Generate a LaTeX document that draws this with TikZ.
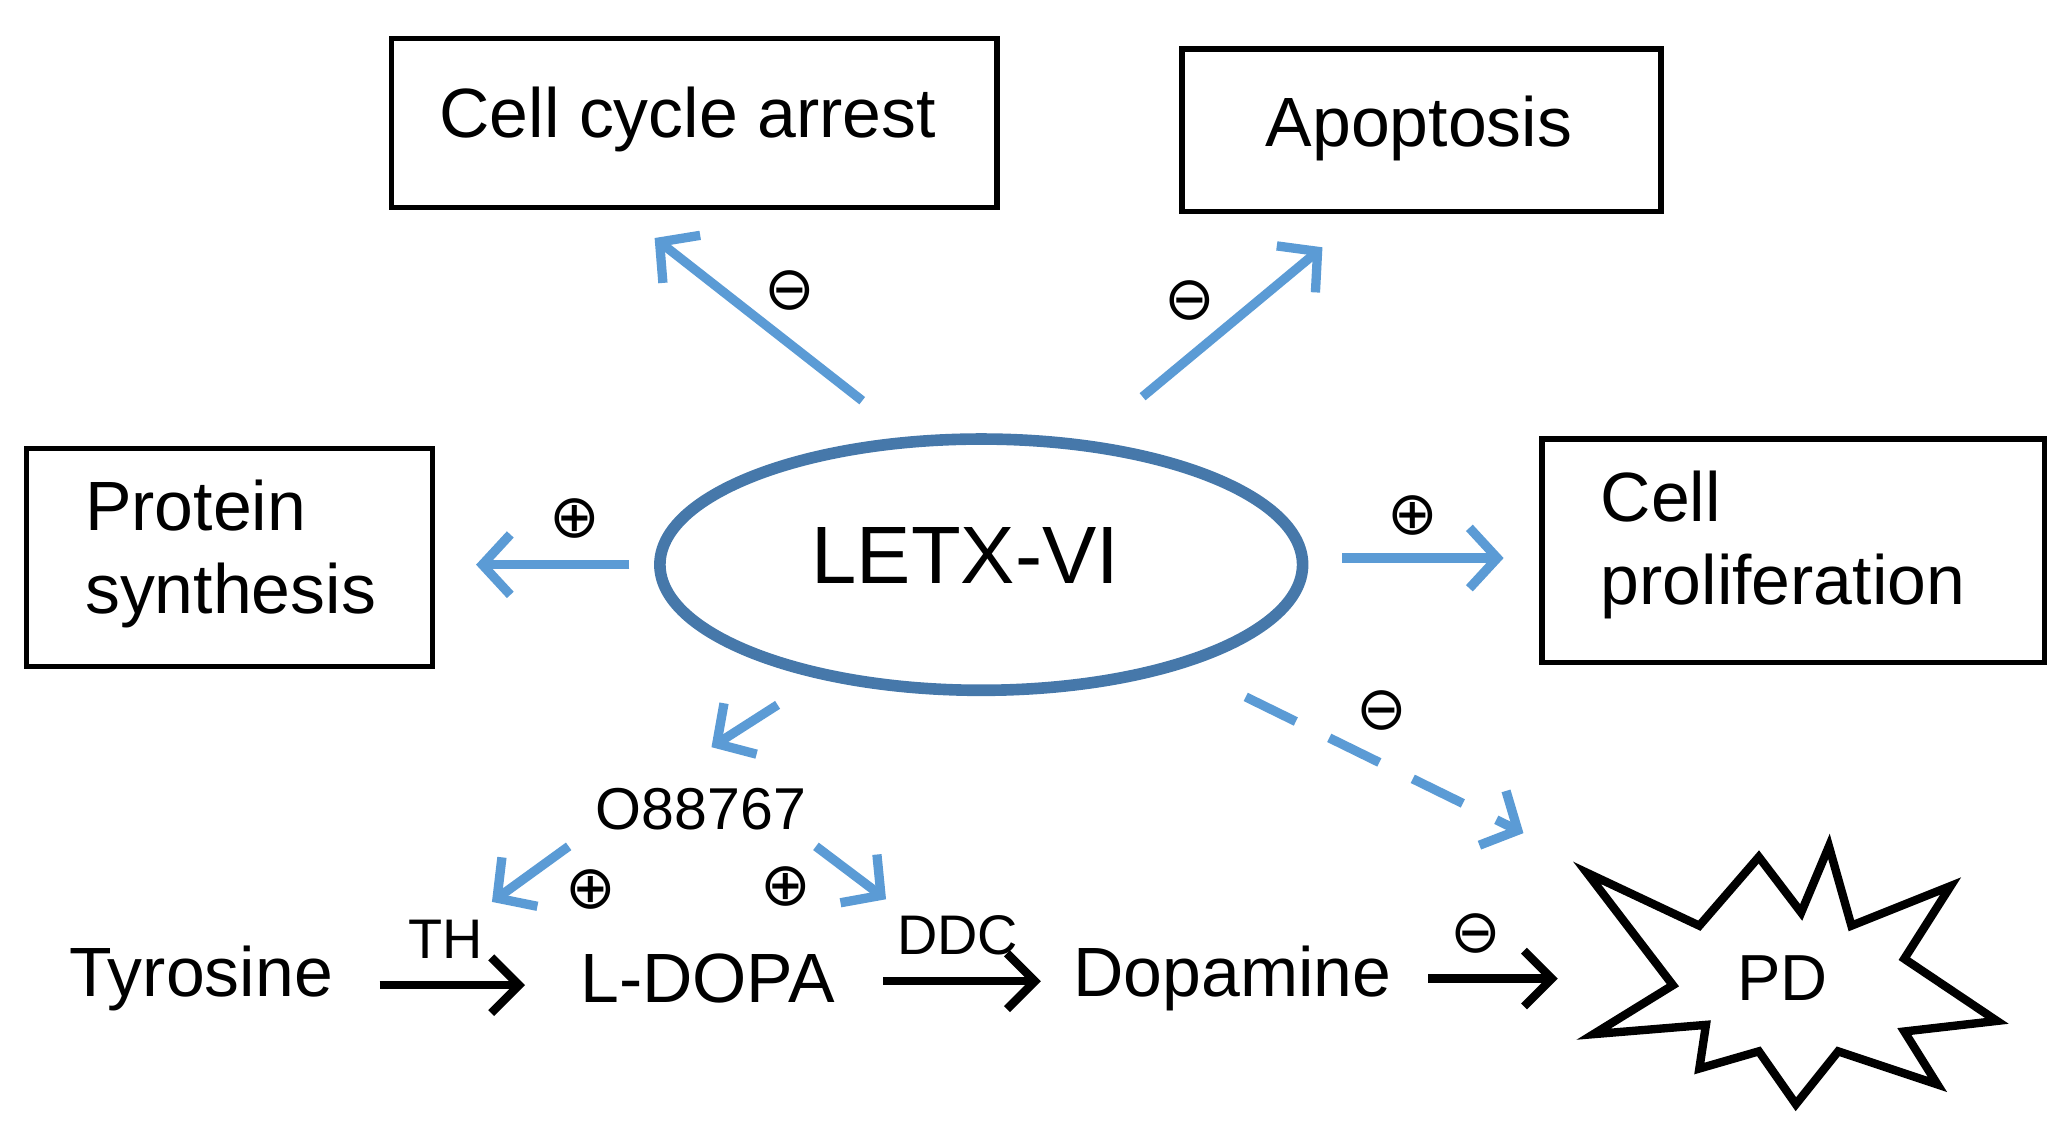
\documentclass[tikz,border=0pt]{standalone}
\usepackage{fontspec}
\setmainfont{Liberation Sans}
\newfontfamily\symf{DejaVu Sans}
\usetikzlibrary{arrows.meta}
\definecolor{ablue}{RGB}{91,155,213}
\definecolor{eblue}{RGB}{70,120,170}
\tikzset{
  barr/.style={draw=ablue,line width=2pt,-{Straight Barb[length=6pt,width=13pt]}},
  karr/.style={draw=black,line width=1.8pt,-{Straight Barb[length=6pt,width=12pt]}},
  sym/.style={font=\symf\fontsize{13}{13}\selectfont},
  lab/.style={font=\fontsize{15}{18}\selectfont},
}
\begin{document}
\begin{tikzpicture}[x=0.01cm,y=-0.01cm]
\useasboundingbox (0,0) rectangle (1560,852);
% boxes
\draw[line width=1.2pt] (296,29) rectangle (754,157);
\node[lab] (cca) at (520,90) {Cell cycle arrest};
\draw[line width=1.2pt] (894,37) rectangle (1256,160);
\node[lab] (apo) at (1073,97) {Apoptosis};
\draw[line width=1.2pt] (20,339) rectangle (327,504);
\node[lab,align=left,anchor=west] (ps) at (52,419) {Protein\\synthesis};
\draw[line width=1.2pt] (1166,332) rectangle (1546,501);
\node[lab,align=left,anchor=west] (cp) at (1198,412) {Cell\\proliferation};
% ellipse
\draw[eblue,line width=2.5pt] (742,427) ellipse [x radius=243,y radius=95];
\node[font=\fontsize{17.5}{20}\selectfont] (letx) at (730,420) {LETX-VI};
% blue arrows
\coordinate (a1) at (652,303); \coordinate (b1) at (495,180);
\draw[barr] (a1) -- (b1); \node[sym] (s1) at (597,220) {⊖};
\coordinate (a2) at (864,300); \coordinate (b2) at (1000,187);
\draw[barr] (a2) -- (b2); \node[sym] (s2) at (900,227) {⊖};
\coordinate (a3) at (476,427); \coordinate (b3) at (360,427);
\draw[barr] (a3) -- (b3); \node[sym] (s3) at (435,392) {⊕};
\coordinate (a4) at (1015,422); \coordinate (b4) at (1137,422);
\draw[barr] (a4) -- (b4); \node[sym] (s4) at (1068,390) {⊕};
\coordinate (a5) at (942,527); \coordinate (b5) at (1152,630);
\draw[barr,dash pattern=on 12pt off 8pt] (a5) -- (b5); \node[sym] (s5) at (1045,537) {⊖};
\coordinate (a6) at (588,533); \coordinate (b6) at (538,565);
\draw[barr] (a6) -- (b6);
\node[font=\fontsize{12.7}{15}\selectfont] (o88) at (530,612) {O88767};
\coordinate (a7) at (430,640); \coordinate (b7) at (372,682);
\draw[barr] (a7) -- (b7); \node[sym] (s7) at (447,673) {⊕};
\coordinate (a8) at (617,640); \coordinate (b8) at (670,680);
\draw[barr] (a8) -- (b8); \node[sym] (s8) at (594,670) {⊕};
% pathway
\node[lab] (tyr) at (152,740) {Tyrosine};
\node[lab] (ldopa) at (535,740) {L-DOPA};
\node[lab] (dop) at (932,740) {Dopamine};
\coordinate (c1) at (287,745); \coordinate (d1) at (397,745);
\draw[karr] (c1) -- (d1); \node[font=\fontsize{12}{14}\selectfont] (th) at (337,710) {TH};
\coordinate (c2) at (668,742); \coordinate (d2) at (787,742);
\draw[karr] (c2) -- (d2); \node[font=\fontsize{12}{14}\selectfont] (ddc) at (724,707) {DDC};
\coordinate (c3) at (1080,740); \coordinate (d3) at (1178,740);
\draw[karr] (c3) -- (d3); \node[sym] (s9) at (1116,706) {⊖};
% star
\draw[line width=1.8pt,fill=white] (1200,660) -- (1285,700) -- (1330,648) -- (1362,690) -- (1383,640) -- (1400,700) -- (1475,670) -- (1440,725) -- (1510,772) -- (1440,780) -- (1465,820) -- (1390,795) -- (1358,835) -- (1330,795) -- (1285,808) -- (1290,775) -- (1205,782) -- (1265,745) -- cycle;
\node[font=\fontsize{14}{16}\selectfont] (pd) at (1348,740) {PD};
\end{tikzpicture}
\end{document}
